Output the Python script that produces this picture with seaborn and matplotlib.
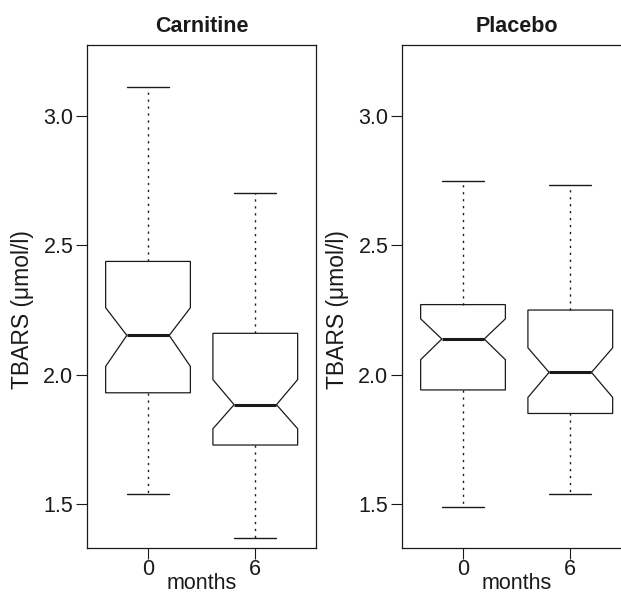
import numpy as np
import seaborn as sns
import matplotlib.pyplot as plt

# values (TBARS, umol/l)
panels = ['Carnitine', 'Placebo']
months = ['0', '6']

whis_low = {'Carnitine': [1.540, 1.370], 'Placebo': [1.490, 1.540]}
q1 = {'Carnitine': [1.930, 1.728], 'Placebo': [1.941, 1.850]}
med = {'Carnitine': [2.152, 1.884], 'Placebo': [2.138, 2.009]}
q3 = {'Carnitine': [2.438, 2.160], 'Placebo': [2.271, 2.250]}
whis_high = {'Carnitine': [3.112, 2.704], 'Placebo': [2.750, 2.733]}
notch_lo = {'Carnitine': [2.032, 1.791], 'Placebo': [2.058, 1.912]}
notch_hi = {'Carnitine': [2.259, 1.981], 'Placebo': [2.216, 2.104]}

yticks = [1.5, 2.0, 2.5, 3.0]
ytick_labels = ['1.5', '2.0', '2.5', '3.0']

sns.set_style('ticks')
plt.rcParams['font.family'] = ['Liberation Sans', 'DejaVu Sans']

ink = '#1a1a1a'
fig = plt.figure(figsize=(6.21, 5.93), dpi=100)
ax_left = [87.3 / 621, 402.3 / 621]

for i, name in enumerate(panels):
    ax = fig.add_axes([ax_left[i], 0.0764, 228.7 / 621, 0.8469])
    stats = []
    for j, m in enumerate(months):
        stats.append({'label': m, 'whislo': whis_low[name][j], 'q1': q1[name][j],
                      'med': med[name][j], 'q3': q3[name][j], 'whishi': whis_high[name][j],
                      'cilo': notch_lo[name][j], 'cihi': notch_hi[name][j], 'fliers': []})
    ax.bxp(stats, positions=[0, 1], widths=0.79, shownotches=True, showfliers=False,
           patch_artist=True,
           boxprops=dict(facecolor='white', edgecolor=ink, linewidth=0.9),
           medianprops=dict(color=ink, linewidth=2.2, solid_capstyle='butt'),
           whiskerprops=dict(color=ink, linewidth=1.0, linestyle=(0, (1.6, 3.4))),
           capprops=dict(color=ink, linewidth=1.0))
    ax.set_xlim(-0.566, 1.566)
    ax.set_ylim(1.331, 3.273)
    ax.set_yticks(yticks)
    ax.set_yticklabels(ytick_labels)
    ax.set_xticks([0, 1])
    ax.set_xticklabels(months)
    ax.tick_params(axis='both', length=8, width=0.8, color=ink, labelsize=15.5,
                   labelcolor=ink, pad=2, direction='out')
    ax.tick_params(axis='x', pad=0)
    for sp in ax.spines.values():
        sp.set_linewidth(0.9)
        sp.set_color(ink)
    ax.set_xlabel('months', fontsize=15.5, color=ink, labelpad=-5)
    ax.set_ylabel('TBARS (\u03bcmol/l)', fontsize=16.5, color=ink)
    ax.yaxis.set_label_coords(-0.235, 0.475)
    ax.set_title(name, fontsize=15.5, fontweight='bold', color=ink, pad=10)
    ax.grid(False)

fig.savefig('out.png', dpi=100)
